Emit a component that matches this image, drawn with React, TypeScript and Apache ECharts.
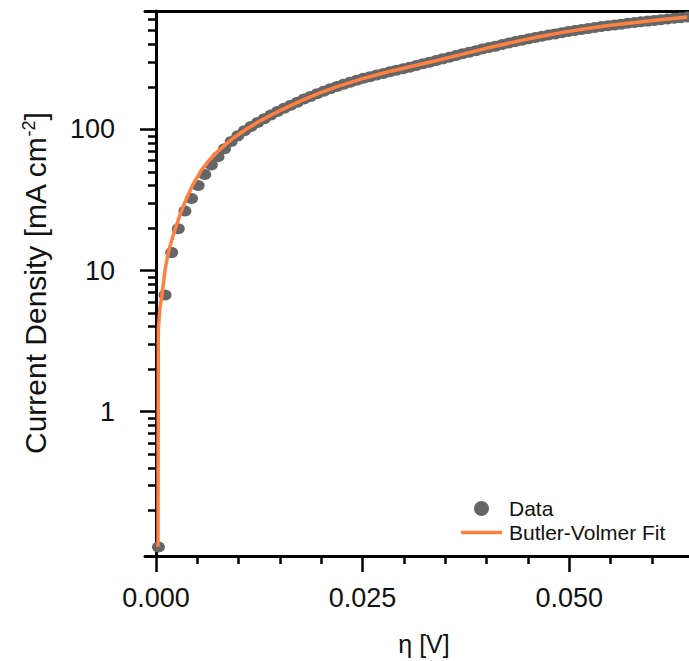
import React, { useEffect, useRef } from "react";
import * as echarts from "echarts";

// Measured data (overpotential in V, current density in mA cm^-2)
const ETA_DATA = [
  0.0003, 0.0011, 0.0019, 0.0027, 0.0035, 0.0043, 0.0051, 0.0059, 0.0067, 0.0075,
  0.0083, 0.0091, 0.0099, 0.0107, 0.0115, 0.0123, 0.0131, 0.0139, 0.0147, 0.0155,
  0.0163, 0.0171, 0.0179, 0.0187, 0.0195, 0.0203, 0.0211, 0.0219, 0.0227, 0.0235,
  0.0243, 0.0251, 0.0259, 0.0267, 0.0275, 0.0283, 0.0291, 0.0299, 0.0307, 0.0315,
  0.0323, 0.0331, 0.0339, 0.0347, 0.0355, 0.0363, 0.0371, 0.0379, 0.0387, 0.0395,
  0.0403, 0.0411, 0.0419, 0.0427, 0.0435, 0.0443, 0.0451, 0.0459, 0.0467, 0.0475,
  0.0483, 0.0491, 0.0499, 0.0507, 0.0515, 0.0523, 0.0531, 0.0539, 0.0547, 0.0555,
  0.0563, 0.0571, 0.0579, 0.0587, 0.0595, 0.0603, 0.0611, 0.0619, 0.0627, 0.0635,
  0.0643,
];
const J_DATA = [
  0.11, 6.7, 13.4, 19.8, 26.4, 32.4, 40, 48, 56, 64,
  73, 82, 90, 98, 105, 112, 119, 126.5, 134, 141,
  148.5, 156, 164, 171, 179, 186.5, 194, 201.5, 209, 216,
  223, 230, 236, 242.5, 249, 256, 262, 269, 276, 284,
  291.5, 299, 307.5, 316, 325, 334, 343, 352, 361, 371,
  380, 389, 399, 409, 419, 429, 439, 448, 457, 466,
  475, 484, 493, 502, 510, 518, 527, 535, 542, 550,
  557, 564, 571, 578, 585, 592, 599, 606, 612, 619,
  626,
];

// Butler-Volmer fit curve
const ETA_FIT = [
  0.00024, 0.00028, 0.00048, 0.00069, 0.00109, 0.00149, 0.00209, 0.0029, 0.0035, 0.0045,
  0.0055, 0.0065, 0.0075, 0.0085, 0.0095, 0.011, 0.0125, 0.014, 0.016, 0.018,
  0.02, 0.022, 0.025, 0.028, 0.031, 0.034, 0.037, 0.04, 0.043, 0.046,
  0.049, 0.052, 0.055, 0.058, 0.061, 0.0643,
];
const J_FIT = [
  0.11, 3.8, 5.5, 6.5, 10, 13.4, 17.9, 24.8, 30.5, 41,
  51.5, 61, 70, 79, 88, 101, 114, 127, 145, 164,
  183, 202, 229, 255, 280, 308, 340, 376, 412, 450,
  485, 517, 547, 573, 598, 626,
];

const X_MAJOR_TICKS = [0, 0.025, 0.05];
const X_MINOR_TICKS = [0.005, 0.01, 0.015, 0.02, 0.03, 0.035, 0.04, 0.045, 0.055, 0.06];
const Y_MAJOR_TICKS = [1, 10, 100];
const Y_MINOR_TICKS = [
  0.2, 0.3, 0.4, 0.5, 0.6, 0.7, 0.8, 0.9,
  2, 3, 4, 5, 6, 7, 8, 9,
  20, 30, 40, 50, 60, 70, 80, 90,
  200, 300, 400, 500, 600,
];

const X_MIN = -0.00133;
const X_MAX = 0.0645;
const Y_MIN = 0.095;
const Y_MAX = 690;

const FONT = "'Liberation Sans', Arial, sans-serif";
const GRAY = "#666666";
const ORANGE = "#ff8040";

export default function App() {
  const ref = useRef<HTMLDivElement>(null);

  useEffect(() => {
    if (!ref.current) return;
    const chart = echarts.init(ref.current, undefined, { renderer: "svg" });

    const dataPts = ETA_DATA.map((x, i) => [x, J_DATA[i]]);
    const fitPts = ETA_FIT.map((x, i) => [x, J_FIT[i]]);

    const baseX = {
      type: "value",
      min: X_MIN,
      max: X_MAX,
      splitLine: { show: false },
    };
    const baseY = {
      type: "log",
      logBase: 10,
      min: Y_MIN,
      max: Y_MAX,
      splitLine: { show: false },
    };

    chart.setOption({
      animation: false,
      backgroundColor: "#ffffff",
      textStyle: { fontFamily: FONT },
      grid: { left: 145, right: 0, top: 11, bottom: 99, containLabel: false },
      legend: {
        orient: "vertical",
        left: 456,
        top: 493,
        itemWidth: 41,
        itemHeight: 15,
        itemGap: 3,
        textStyle: { fontSize: 21, color: "#111", fontFamily: FONT, padding: [0, 0, 0, 2] },
        data: [
          { name: "Data", icon: "circle" },
          { name: "Butler-Volmer Fit", icon: "path://M0,0L41,0L41,3.5L0,3.5Z" },
        ],
      },
      xAxis: [
        {
          ...baseX,
          position: "bottom",
          name: "η [V]",
          nameLocation: "middle",
          nameGap: 75,
          nameTextStyle: { fontSize: 25, color: "#111", fontFamily: FONT, padding: [0, 0, 0, 14] },
          axisLine: { show: true, lineStyle: { color: "#000", width: 3 } },
          axisTick: {
            show: true,
            customValues: X_MAJOR_TICKS,
            length: 16,
            lineStyle: { color: "#000", width: 2.5 },
          },
          axisLabel: {
            show: true,
            customValues: X_MAJOR_TICKS,
            formatter: (v: number) => v.toFixed(3),
            fontSize: 27,
            color: "#111",
            fontFamily: FONT,
            margin: 28,
          },
        },
        {
          ...baseX,
          position: "bottom",
          axisLine: { show: false },
          axisTick: {
            show: true,
            customValues: X_MINOR_TICKS,
            length: 8,
            lineStyle: { color: "#000", width: 2.5 },
          },
          axisLabel: { show: false },
        },
        {
          ...baseX,
          position: "top",
          axisLine: { show: true, lineStyle: { color: "#000", width: 3 } },
          axisTick: { show: false },
          axisLabel: { show: false },
        },
      ],
      yAxis: [
        {
          ...baseY,
          position: "left",
          name: "{a|Current Density [mA cm}{s|-2}{a|]}",
          nameLocation: "middle",
          nameGap: 95,
          nameTextStyle: {
            fontSize: 30,
            color: "#111",
            fontFamily: FONT,
            rich: {
              a: { fontSize: 30, color: "#111", fontFamily: FONT, lineHeight: 30, verticalAlign: "bottom" },
              s: { fontSize: 18, color: "#111", fontFamily: FONT, verticalAlign: "top" },
            },
          },
          axisLine: { show: true, lineStyle: { color: "#000", width: 3 } },
          axisTick: {
            show: true,
            customValues: Y_MAJOR_TICKS,
            length: 16,
            lineStyle: { color: "#000", width: 2.5 },
          },
          axisLabel: {
            show: true,
            customValues: Y_MAJOR_TICKS,
            formatter: (v: number) => String(Math.round(v)),
            fontSize: 27,
            color: "#111",
            fontFamily: FONT,
            margin: 30,
          },
        },
        {
          ...baseY,
          position: "left",
          axisLine: { show: false },
          axisTick: {
            show: true,
            customValues: Y_MINOR_TICKS,
            length: 8,
            lineStyle: { color: "#000", width: 2.5 },
          },
          axisLabel: { show: false },
        },
      ],
      series: [
        {
          name: "Data",
          type: "scatter",
          xAxisIndex: 0,
          yAxisIndex: 0,
          data: dataPts,
          symbol: "circle",
          symbolSize: [13, 11],
          itemStyle: { color: GRAY, opacity: 1 },
          z: 2,
        },
        {
          name: "Butler-Volmer Fit",
          type: "line",
          xAxisIndex: 0,
          yAxisIndex: 0,
          data: fitPts,
          symbol: "none",
          showSymbol: false,
          lineStyle: { color: ORANGE, width: 3.5 },
          itemStyle: { color: ORANGE },
          z: 3,
        },
      ],
    });

    return () => chart.dispose();
  }, []);

  return (
    <div
      ref={ref}
      style={{ position: "fixed", left: 0, top: 0, width: 689, height: 661, background: "#fff" }}
    />
  );
}
